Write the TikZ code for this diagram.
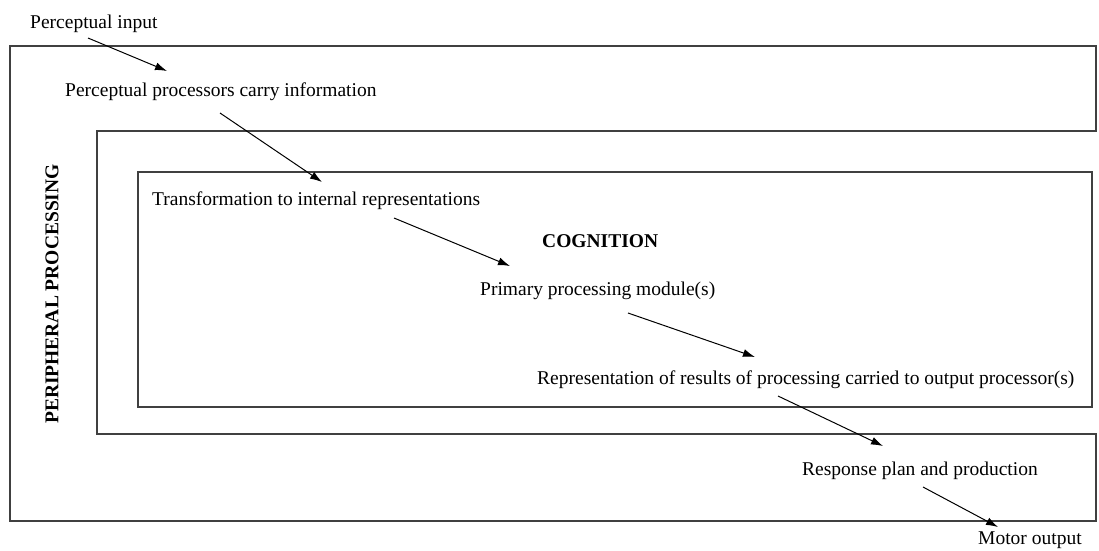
\documentclass[tikz,border=0pt]{standalone}
\usepackage{fontspec}
\setmainfont{Liberation Serif}
\usetikzlibrary{arrows.meta}

\begin{document}
\begin{tikzpicture}[x=1pt,y=-1pt]
	\tikzstyle{frame} = [draw,line width=1.4pt,color=black!75];
	\tikzstyle{lbl} = [anchor=base west,inner sep=0pt,font=\fontsize{19.5}{22}\selectfont];
	\tikzstyle{arr} = [draw,line width=1pt,-{Latex[length=12pt,width=8pt]}];
	\useasboundingbox (0,0) rectangle (1099,550);
	\path [frame] (10,46) -- (1096,46) -- (1096,131) -- (97,131) -- (97,434) -- (1096,434) -- (1096,521) -- (10,521) -- cycle;
	\path [frame] (138,172) rectangle (1092,407);
	\node (pin) at (30,28) [lbl] {Perceptual input};
	\node (ppc) at (65,96) [lbl] {Perceptual processors carry information};
	\node (tir) at (152,205) [lbl] {Transformation to internal representations};
	\node (cog) at (542,247) [lbl] {\bfseries COGNITION};
	\node (ppm) at (480,295) [lbl] {Primary processing module(s)};
	\node (rrp) at (537,384) [lbl] {Representation of results of processing carried to output processor(s)};
	\node (rpp) at (802,475) [lbl] {Response plan and production};
	\node (mot) at (978,544) [lbl] {Motor output};
	\node (per) at (52,294) [rotate=90,inner sep=0pt,font=\fontsize{19.5}{22}\selectfont] {\bfseries PERIPHERAL PROCESSING};
	% arrow ends
	\coordinate (a1s) at (88,38);   \coordinate (a1e) at (167,71);
	\coordinate (a2s) at (220,113); \coordinate (a2e) at (322,182);
	\coordinate (a3s) at (394,218); \coordinate (a3e) at (510,266);
	\coordinate (a4s) at (628,313); \coordinate (a4e) at (755,357);
	\coordinate (a5s) at (778,396); \coordinate (a5e) at (883,446);
	\coordinate (a6s) at (923,487); \coordinate (a6e) at (998,527);
	\path [arr] (a1s) -- (a1e);
	\path [arr] (a2s) -- (a2e);
	\path [arr] (a3s) -- (a3e);
	\path [arr] (a4s) -- (a4e);
	\path [arr] (a5s) -- (a5e);
	\path [arr] (a6s) -- (a6e);
\end{tikzpicture}
\end{document}
